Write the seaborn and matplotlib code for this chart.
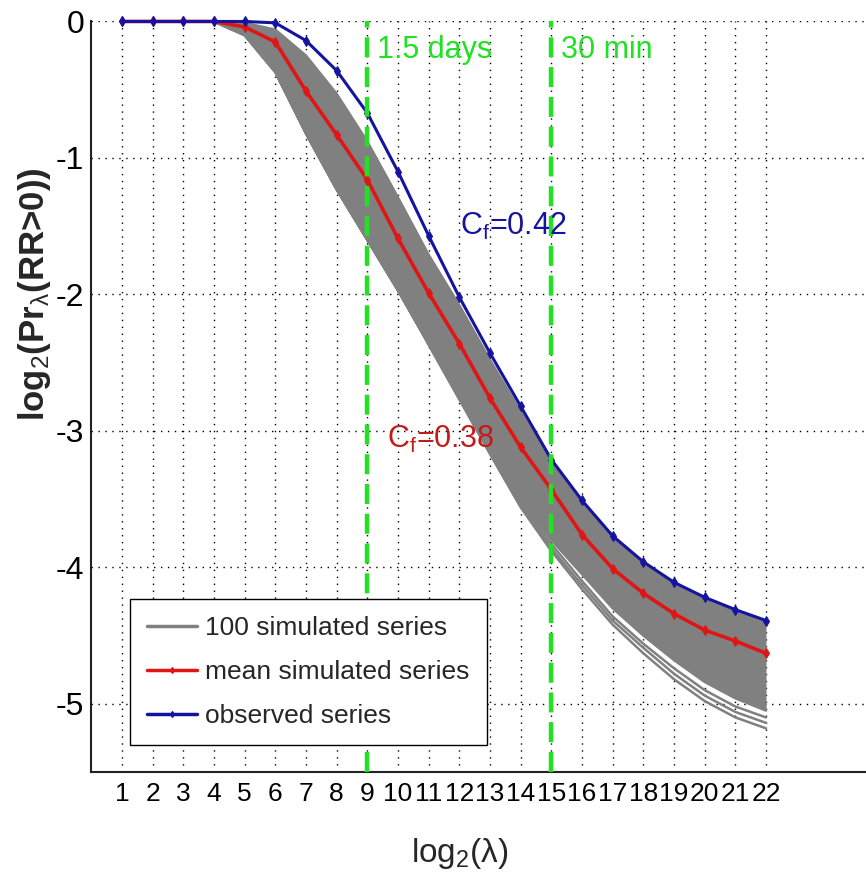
import numpy as np
import pandas as pd
import matplotlib
matplotlib.use("Agg")
import matplotlib.pyplot as plt
from matplotlib import font_manager as fm
from matplotlib.lines import Line2D
import seaborn as sns

# ---------------- data ----------------
x_scale = list(range(1, 23))
observed = [0, 0, 0, 0, 0, -0.01, -0.14, -0.36, -0.67, -1.10, -1.57, -2.02,
            -2.43, -2.82, -3.21, -3.51, -3.77, -3.96, -4.11, -4.22, -4.31, -4.39]
mean_sim = [0, 0, 0, 0, -0.04, -0.15, -0.51, -0.83, -1.16, -1.59, -1.99, -2.36,
            -2.76, -3.12, -3.43, -3.76, -4.01, -4.19, -4.34, -4.46, -4.54, -4.63]

sim_x = list(range(4, 23))
sim_upper = [0, -0.01, -0.06, -0.25, -0.53, -0.88, -1.29, -1.71, -2.08, -2.48,
             -2.86, -3.24, -3.53, -3.78, -3.97, -4.12, -4.23, -4.32, -4.40]
sim_lower = [0, -0.10, -0.37, -0.82, -1.23, -1.60, -1.97, -2.36, -2.76, -3.15,
             -3.50, -3.80, -4.05, -4.30, -4.50, -4.68, -4.84, -4.96, -5.05]
sim_low_a = [0, -0.10, -0.37, -0.82, -1.23, -1.60, -1.97, -2.36, -2.76, -3.15,
             -3.52, -3.83, -4.10, -4.36, -4.56, -4.74, -4.90, -5.02, -5.10]
sim_low_b = [0, -0.10, -0.37, -0.82, -1.23, -1.60, -1.97, -2.36, -2.76, -3.16,
             -3.54, -3.86, -4.13, -4.39, -4.59, -4.78, -4.94, -5.06, -5.14]
sim_low_c = [0, -0.10, -0.37, -0.82, -1.23, -1.60, -1.97, -2.37, -2.77, -3.17,
             -3.56, -3.88, -4.16, -4.42, -4.63, -4.82, -4.98, -5.10, -5.18]

scale_marks = [9, 15]
scale_labels = ["1.5 days", "30 min"]
legend_labels = ["100 simulated series", "mean simulated series", "observed series"]
xlabel = r"log$_2$($\lambda$)"
ylabel = r"log$_2$(Pr$_\lambda$(RR>0))"

# ---------------- style ----------------
sns.set_style("white")
names = {f.name for f in fm.fontManager.ttflist}
narrow = "Liberation Sans Narrow" if "Liberation Sans Narrow" in names else "Liberation Sans"
plt.rcParams["font.family"] = [narrow, "DejaVu Sans"]
plt.rcParams["mathtext.fontset"] = "custom"
plt.rcParams["mathtext.rm"] = narrow
plt.rcParams["mathtext.it"] = narrow
plt.rcParams["mathtext.bf"] = "Liberation Sans:bold"

GREY = "#808080"
RED = "#e01515"
BLUE = "#1414a0"
GREEN = "#22e022"

fig = plt.figure(figsize=(8.66, 8.73), dpi=100)
ax = fig.add_axes([0.1054, 0.1157, 0.8946, 0.9754 - 0.1157])

# simulated band
ax.fill_between(sim_x, sim_lower, sim_upper, color=GREY, lw=0, zorder=2)
for s in [sim_upper, sim_lower, sim_low_a, sim_low_b, sim_low_c]:
    sns.lineplot(x=sim_x, y=s, ax=ax, color=GREY, lw=1.8, zorder=2)

sns.lineplot(x=x_scale, y=mean_sim, ax=ax, color=RED, lw=2.6, marker="d",
             markersize=5, markeredgecolor=RED, zorder=4)
sns.lineplot(x=x_scale, y=observed, ax=ax, color=BLUE, lw=2.2, marker="d",
             markersize=5.5, markeredgecolor=BLUE, zorder=5)
for ln in ax.lines[-2:]:
    ln.set_clip_on(False)

for xm, lab in zip(scale_marks, scale_labels):
    ax.axvline(xm, color=GREEN, lw=3.2, ls=(0, (4.5, 2.2)), zorder=6)
    ax.text(xm + 0.3, -0.21, lab, color=GREEN, fontsize=22, va="center", ha="left", zorder=7)

ax.text(12.02, -1.5, r"C$_f$=0.42", color=BLUE, fontsize=22, va="center", ha="left", zorder=7)
ax.text(9.64, -3.06, r"C$_f$=0.38", color="#c41a1a", fontsize=22, va="center", ha="left", zorder=7)

ax.set_xlim(0, 25.26)
ax.set_ylim(-5.5, 0)
ax.set_xticks(x_scale)
ax.set_xticklabels([str(v) for v in x_scale])
ax.set_yticks([0, -1, -2, -3, -4, -5])
ax.set_yticklabels(["0", "-1", "-2", "-3", "-4", "-5"])
ax.tick_params(axis="both", direction="in", length=5, width=1, colors="black")
ax.tick_params(axis="x", pad=7, labelsize=19)
ax.tick_params(axis="y", pad=5, labelsize=23)
ax.grid(True, color="black", ls=(0, (1, 4)), lw=1, zorder=0)
ax.set_axisbelow(True)
for side in ["top", "right"]:
    ax.spines[side].set_visible(False)
for side in ["left", "bottom"]:
    ax.spines[side].set_color("#222222")
    ax.spines[side].set_linewidth(1.5)

ax.set_xlabel(xlabel, fontsize=24)
ax.xaxis.set_label_coords(0.476, -0.085)
ax.set_ylabel(ylabel, fontsize=25, fontweight="bold", family=["Liberation Sans", "DejaVu Sans"])
ax.yaxis.set_label_coords(-0.05, 0.636)

handles = [Line2D([], [], color=GREY, lw=2.5),
           Line2D([], [], color=RED, lw=2.5, marker="d", markersize=3),
           Line2D([], [], color=BLUE, lw=2.5, marker="d", markersize=3)]
leg = ax.legend(handles, legend_labels, loc="lower left", bbox_to_anchor=(0.05, 0.036),
                borderaxespad=0, fontsize=19, frameon=True, fancybox=False,
                framealpha=1, edgecolor="black", handlelength=1.9, handletextpad=0.3,
                labelspacing=0.75, borderpad=0.65)
leg.get_frame().set_linewidth(1.0)
leg.set_zorder(10)

fig.savefig("out.png", dpi=100)
